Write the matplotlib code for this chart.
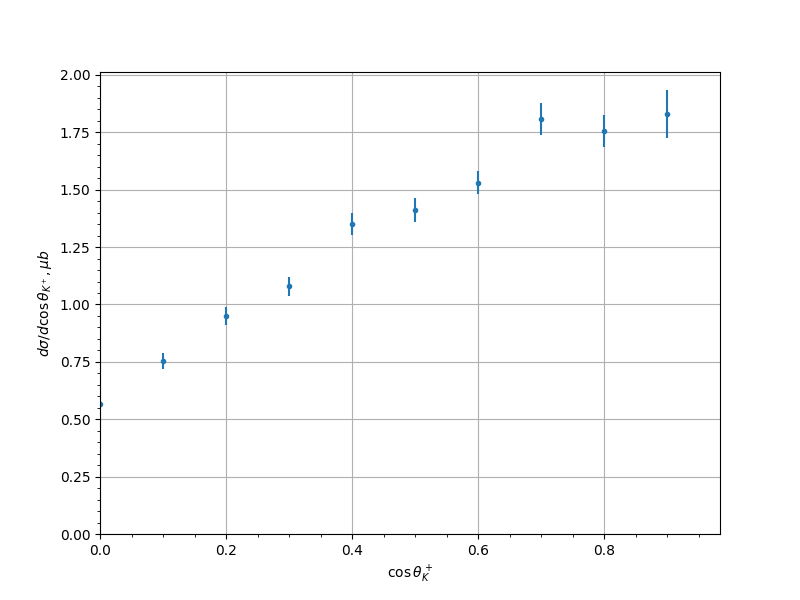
import matplotlib
matplotlib.use("Agg")
import matplotlib.pyplot as plt

x = [0.0, 0.1, 0.2, 0.3, 0.4, 0.5, 0.6, 0.7, 0.8, 0.9]
y = [0.565, 0.755, 0.948, 1.079, 1.350, 1.411, 1.530, 1.808, 1.756, 1.830]
yerr = [0.015, 0.035, 0.039, 0.041, 0.048, 0.052, 0.050, 0.069, 0.071, 0.104]

fig, ax = plt.subplots(figsize=(8, 6), dpi=100)
ax.errorbar(x, y, yerr=yerr, fmt='.')
ax.set_xlim(0, 0.984)
ax.set_ylim(0, 2.013)
ax.minorticks_on()
ax.grid(True, which='major')
ax.set_xlabel(r'$\cos\theta_K^+$')
ax.set_ylabel(r'$d\sigma/d\cos\theta_{K^+}, \mu b$')
fig.savefig("out.png")
